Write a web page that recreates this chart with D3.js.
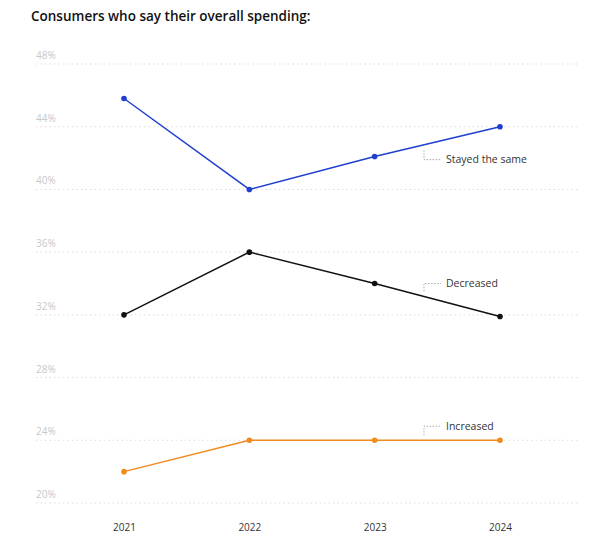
<!DOCTYPE html>
<html><head><meta charset="utf-8">
<script src="https://cdn.jsdelivr.net/npm/d3@7"></script>
<style>body{margin:0;background:#fff;font-family:"Open Sans",sans-serif;}</style>
</head><body><svg width="600" height="547"></svg>
<script>
const years = ['2021', '2022', '2023', '2024'];
const stayed = [45.8, 40, 42.1, 44];
const decreased = [32, 36, 34, 31.9];
const increased = [22, 24, 24, 24];
const yTicks = [20, 24, 28, 32, 36, 40, 44, 48];
const seriesNames = ['Stayed the same', 'Decreased', 'Increased'];
const colors = ['#1f3fd0', '#111111', '#f08a1c'];
// label anchor: [value at label, value at bracket end]
const labelAt = [[41.9, 42.5], [34, 33.5], [24.9, 24.3]];

const svg = d3.select('svg');
const x = d3.scalePoint().domain(years).range([124, 500]);
const y = d3.scaleLinear().domain([20, 48]).range([503, 64]);

svg.append('text').attr('x', 31).attr('y', 21)
  .attr('font-size', 13.5).attr('font-weight', 600).attr('fill', '#111')
  .text('Consumers who say their overall spending:');

const grid = svg.append('g');
yTicks.forEach(t => {
  grid.append('line').attr('x1', 36).attr('x2', 580).attr('y1', y(t)).attr('y2', y(t))
    .attr('stroke', '#ddd').attr('stroke-dasharray', '1.5,3');
  grid.append('text').attr('x', 36).attr('y', y(t) - 5)
    .attr('font-size', 10).attr('fill', '#c8c8c8').text(t + '%');
});

svg.append('g').attr('transform', 'translate(0,521)')
  .call(d3.axisBottom(x).tickSize(0))
  .call(g => g.select('.domain').remove())
  .selectAll('text').attr('font-size', 10).attr('fill', '#333')
  .attr('font-family', '"Open Sans",sans-serif');

const line = d3.line().x((d, i) => x(years[i])).y(d => y(d));
[stayed, decreased, increased].forEach((s, k) => {
  svg.append('path').datum(s).attr('d', line).attr('fill', 'none')
    .attr('stroke', colors[k]).attr('stroke-width', 1.5);
  svg.selectAll(null).data(s).enter().append('circle')
    .attr('cx', (d, i) => x(years[i])).attr('cy', d => y(d)).attr('r', 2.8)
    .attr('fill', colors[k]);
  const ly = y(labelAt[k][0]), by = y(labelAt[k][1]);
  svg.append('path').attr('d', `M424,${by}V${ly}H441`).attr('fill', 'none')
    .attr('stroke', '#aaa').attr('stroke-dasharray', '1.5,1.5');
  svg.append('text').attr('x', 446).attr('y', ly + 3.5)
    .attr('font-size', 10.5).attr('fill', '#333').text(seriesNames[k]);
});
</script></body></html>
